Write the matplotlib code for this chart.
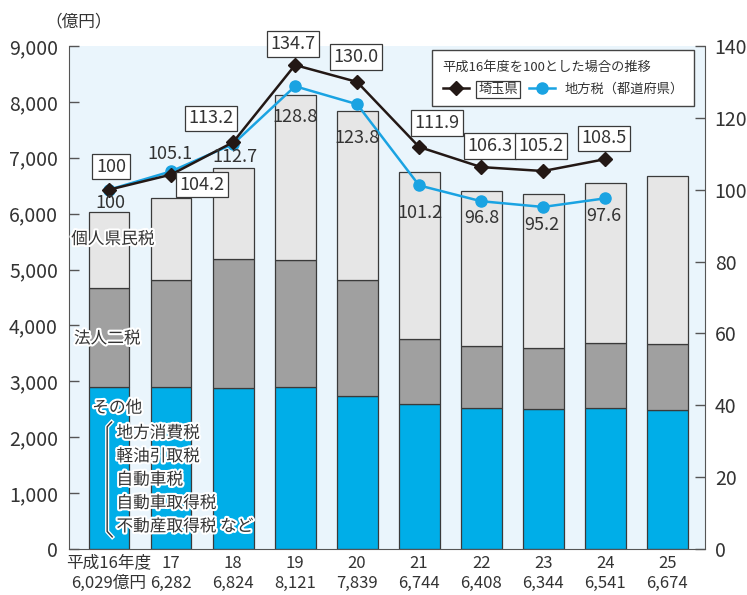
import matplotlib
matplotlib.use('Agg')
import matplotlib.pyplot as plt
import matplotlib.patheffects as pe
from matplotlib.lines import Line2D

plt.rcParams['font.family'] = ['Noto Sans CJK JP', 'DejaVu Sans']

# data
years = ['平成16年度', '17', '18', '19', '20', '21', '22', '23', '24', '25']
totals = [6029, 6282, 6824, 8121, 7839, 6744, 6408, 6344, 6541, 6674]
other = [2893, 2890, 2887, 2904, 2737, 2588, 2522, 2499, 2522, 2487]
corp = [1771, 1922, 2301, 2272, 2070, 1163, 1115, 1102, 1169, 1186]
saitama_idx = [100, 104.2, 113.2, 134.7, 130.0, 111.9, 106.3, 105.2, 108.5]
local_idx = [100, 105.1, 112.7, 128.8, 123.8, 101.2, 96.8, 95.2, 97.6]

# label offsets (pixels) relative to each point
saitama_off = [(2, -23), (31, 10), (-22, -24), (-2, -21), (-1, -25),
               (18, -24), (9, -21), (-2, -25), (-1, -21)]
local_off = [(1, 13), (-1, -17), (2, 13), (0, 31), (0, 34),
             (1, 28), (1, 17), (-1, 18), (-1, 18)]

c_blue = '#00aee8'
c_gray = '#a0a0a0'
c_light = '#e6e6e6'
c_bg = '#eaf5fc'
c_edge = '#3a3a3a'
c_line_blue = '#1aa3e2'
c_black = '#231815'
c_text = '#333333'

x = list(range(len(years)))
resident = [t - o - c for t, o, c in zip(totals, other, corp)]
bottom2 = [o + c for o, c in zip(other, corp)]

fig = plt.figure(figsize=(7.47, 5.95), dpi=100)
ax = fig.add_axes([69 / 747, 46 / 595, 636 / 747, 503 / 595])
ax.set_facecolor(c_bg)

bw = 0.66
ax.bar(x, other, bw, color=c_blue, edgecolor=c_edge, linewidth=0.9, zorder=2)
ax.bar(x, corp, bw, bottom=other, color=c_gray, edgecolor=c_edge,
       linewidth=0.9, zorder=2)
ax.bar(x, resident, bw, bottom=bottom2, color=c_light, edgecolor=c_edge,
       linewidth=0.9, zorder=2)

ax.set_xlim(-0.645, 9.61)
ax.set_ylim(0, 9000)
ax.set_yticks(range(0, 9001, 1000))
ax.set_yticklabels([f'{v:,}' for v in range(0, 9001, 1000)])
xlabels = [f'{years[0]}\n{totals[0]:,}億円'] + \
    [f'{y}\n{t:,}' for y, t in zip(years[1:], totals[1:])]
ax.set_xticks(x)
ax.set_xticklabels(xlabels, fontsize=12, color=c_text, linespacing=1.25)
ax.tick_params(axis='x', length=0, pad=4)
ax.tick_params(axis='y', direction='in', length=7, width=1, color='#555555',
               labelsize=14, labelcolor=c_text, pad=8)
for s in ['top', 'right']:
    ax.spines[s].set_visible(False)
ax.spines['left'].set_color('#555555')
ax.spines['bottom'].set_color('#555555')

fig.text(45 / 747, 1 - 22 / 595, '（億円）', fontsize=12, color=c_text,
         ha='left', va='center')

# labels inside the bars
halo = [pe.withStroke(linewidth=3, foreground='white')]
ax.text(0.06, 5540, '個人県民税', fontsize=12, color=c_text, ha='center',
        va='center', path_effects=halo, zorder=5)
ax.text(-0.03, 3760, '法人二税', fontsize=12, color=c_text, ha='center',
        va='center', path_effects=halo, zorder=5)
ax.text(-0.27, 2520, 'その他', fontsize=12, color=c_text, ha='left',
        va='center', path_effects=halo, zorder=5)
sub = ['地方消費税', '軽油引取税', '自動車税', '自動車取得税', '不動産取得税 など']
for k, s in enumerate(sub):
    ax.text(0.12, 2070 - k * 418, s, fontsize=12, color=c_text, ha='left',
            va='center', path_effects=halo, zorder=5)
bx = [0.067, 0.060, 0.060, 0.068]
by = [0.2525, 0.243, 0.035, 0.024]
ax.plot(bx, by, color=c_text, lw=1, transform=ax.transAxes, zorder=5,
        path_effects=[pe.withStroke(linewidth=3, foreground='white')])

# index lines on the right axis
ax2 = ax.twinx()
ax2.set_ylim(0, 140)
ax2.set_yticks(range(0, 141, 20))
ax2.tick_params(axis='y', direction='in', length=7, width=1, color='#555555',
                labelsize=14, labelcolor=c_text, pad=7)
for s in ['top', 'left', 'bottom']:
    ax2.spines[s].set_visible(False)
ax2.spines['right'].set_color('#555555')

xi = x[:len(saitama_idx)]
ax2.plot(xi, local_idx, color=c_line_blue, lw=1.8, marker='o', ms=8,
         zorder=3)
ax2.plot(xi, saitama_idx, color=c_black, lw=1.8, marker='D', ms=7,
         zorder=4)

for i, v in enumerate(saitama_idx):
    dx, dy = saitama_off[i]
    ax2.annotate(f'{v:g}' if v == 100 else f'{v:.1f}', (i, v),
                 xytext=(dx, -dy), textcoords='offset pixels', ha='center',
                 va='center', fontsize=13, color=c_text, zorder=6,
                 bbox=dict(boxstyle='square,pad=0.2', fc='white',
                           ec=c_edge, lw=0.9))
for i, v in enumerate(local_idx):
    dx, dy = local_off[i]
    ax2.annotate(f'{v:g}' if v == 100 else f'{v:.1f}', (i, v),
                 xytext=(dx, -dy), textcoords='offset pixels', ha='center',
                 va='center', fontsize=13, color=c_text, zorder=6)

handles = [
    Line2D([], [], color=c_black, lw=1.8, marker='D', ms=7),
    Line2D([], [], color=c_line_blue, lw=1.8, marker='o', ms=8),
]
leg = ax2.legend(handles, ['埼玉県', '地方税（都道府県）'], ncol=2,
                 title='平成16年度を100とした場合の推移',
                 title_fontsize=9.5, fontsize=9.5, loc='upper right',
                 bbox_to_anchor=(694 / 747, 1 - 50 / 595),
                 bbox_transform=fig.transFigure, borderaxespad=0,
                 fancybox=False, edgecolor='#444444', framealpha=1,
                 handlelength=2.0, columnspacing=0.8, handletextpad=0.7,
                 borderpad=0.8, labelspacing=0.7, alignment='left')
leg.get_frame().set_linewidth(1)
leg.get_title().set_color(c_text)
for t in leg.get_texts():
    t.set_color(c_text)
leg.get_texts()[0].set_bbox(dict(boxstyle='square,pad=0.15', fc='white',
                                 ec=c_edge, lw=0.9))

fig.savefig('out.png', dpi=100)
